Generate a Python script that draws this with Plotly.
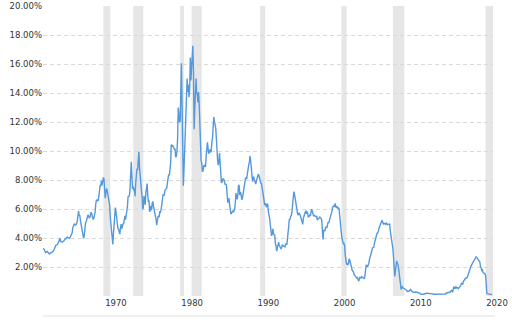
import pandas as pd
import plotly.graph_objects as go

# Monthly 1-year rate (%), Jan 1962 .. Dec 2020
rates_1960s = [
    3.29, 3.26, 3.22, 3.10, 2.99, 3.03, 3.03, 3.08, 3.00, 2.90, 2.90, 2.94,
    3.01, 3.00, 3.00, 3.05, 3.06, 3.14, 3.25, 3.42, 3.48, 3.50, 3.54, 3.57,
    3.69, 3.76, 3.93, 3.94, 3.75, 3.74, 3.69, 3.72, 3.79, 3.80, 3.88, 3.97,
    3.94, 4.03, 4.06, 4.04, 4.03, 3.99, 3.98, 4.07, 4.20, 4.30, 4.37, 4.72,
    4.88, 4.94, 4.97, 4.90, 4.93, 4.97, 5.17, 5.54, 5.85, 5.58, 5.54, 5.20,
    4.94, 4.71, 4.35, 4.11, 3.98, 4.15, 4.73, 5.05, 5.12, 5.33, 5.56, 5.61,
    5.46, 5.39, 5.42, 5.68, 5.78, 5.62, 5.51, 5.27, 5.38, 5.54, 5.75, 6.31,
    6.59, 6.58, 6.66, 6.55, 6.87, 7.42, 7.62, 7.61, 7.95, 7.62, 7.85, 8.17,
]
rates_1970s = [
    8.10, 7.52, 6.75, 7.04, 7.40, 7.32, 7.07, 6.74, 6.51, 6.26, 5.44, 5.00,
    4.51, 3.89, 3.55, 4.30, 5.04, 5.64, 6.10, 5.80, 5.41, 4.91, 4.67, 4.60,
    4.28, 4.27, 4.67, 4.96, 4.64, 4.93, 4.96, 4.98, 5.52, 5.52, 5.27, 5.52,
    5.89, 6.19, 6.85, 6.85, 6.89, 7.31, 8.90, 9.25, 8.31, 7.40, 7.57, 7.27,
    7.42, 6.88, 7.76, 8.62, 8.78, 8.67, 9.30, 9.95, 8.87, 8.05, 7.66, 7.31,
    6.83, 5.98, 6.11, 6.90, 6.39, 6.29, 7.11, 7.70, 7.75, 6.95, 6.49, 6.60,
    5.81, 5.91, 6.21, 5.92, 6.40, 6.52, 6.20, 6.00, 5.84, 5.50, 5.29, 4.89,
    5.29, 5.47, 5.50, 5.44, 5.84, 5.80, 5.94, 6.37, 6.53, 6.97, 6.95, 6.96,
    7.28, 7.34, 7.31, 7.45, 7.82, 8.09, 8.39, 8.31, 8.64, 9.14, 10.45, 10.30,
    10.41, 10.24, 10.25, 10.12, 10.12, 9.57, 9.64, 9.98, 10.84, 13.00, 12.39, 11.98,
]
rates_1980s = [
    12.06, 13.92, 16.05, 13.30, 9.39, 7.60, 8.65, 10.24, 11.52, 12.49, 14.15, 15.00,
    14.08, 14.57, 13.71, 14.32, 16.45, 14.86, 15.72, 16.72, 17.25, 15.38, 11.50, 12.85,
    14.32, 15.00, 13.95, 13.98, 13.34, 14.07, 13.24, 11.43, 10.85, 9.32, 9.16, 8.60,
    8.62, 8.92, 9.04, 8.98, 8.90, 9.66, 10.20, 10.60, 10.16, 9.81, 9.94, 10.11,
    9.90, 10.04, 10.59, 10.90, 11.66, 12.35, 12.03, 11.82, 11.58, 10.90, 9.82, 9.33,
    9.02, 9.29, 9.86, 9.14, 8.46, 7.80, 7.86, 8.05, 8.07, 8.01, 7.88, 7.67,
    7.73, 7.61, 7.03, 6.44, 6.65, 6.73, 6.27, 5.93, 5.65, 5.72, 5.80, 5.87,
    5.78, 5.96, 6.03, 6.50, 7.10, 6.80, 6.68, 7.03, 7.67, 7.59, 6.96, 7.17,
    6.99, 6.64, 6.71, 7.01, 7.40, 7.49, 7.75, 8.17, 8.09, 8.11, 8.48, 8.99,
    9.05, 9.25, 9.65, 9.36, 8.98, 8.44, 7.89, 8.18, 8.22, 7.99, 7.77, 7.72,
]
rates_1990s = [
    7.92, 8.11, 8.35, 8.40, 8.32, 8.10, 7.94, 7.78, 7.76, 7.55, 7.31, 7.05,
    6.64, 6.27, 6.40, 6.24, 6.13, 6.36, 6.31, 5.78, 5.57, 5.33, 4.89, 4.38,
    4.15, 4.29, 4.63, 4.30, 4.19, 4.17, 3.60, 3.47, 3.10, 3.30, 3.68, 3.71,
    3.50, 3.39, 3.33, 3.24, 3.36, 3.54, 3.47, 3.44, 3.36, 3.39, 3.58, 3.61,
    3.54, 3.87, 4.32, 4.82, 5.31, 5.27, 5.48, 5.56, 5.76, 6.11, 6.54, 7.20,
    7.05, 6.70, 6.43, 6.27, 6.00, 5.64, 5.59, 5.75, 5.62, 5.59, 5.43, 5.31,
    5.09, 4.94, 5.34, 5.54, 5.64, 5.81, 5.85, 5.67, 5.83, 5.55, 5.42, 5.47,
    5.61, 5.53, 5.80, 5.99, 5.87, 5.69, 5.54, 5.56, 5.52, 5.46, 5.46, 5.53,
    5.24, 5.31, 5.39, 5.38, 5.44, 5.41, 5.36, 5.21, 4.71, 3.90, 4.53, 4.52,
    4.51, 4.70, 4.78, 4.69, 4.85, 5.10, 5.03, 5.20, 5.25, 5.43, 5.55, 5.84,
]
rates_2000s = [
    6.12, 6.22, 6.22, 6.15, 6.38, 6.17, 6.08, 6.18, 6.13, 6.01, 6.09, 5.60,
    4.81, 4.68, 4.30, 3.98, 3.78, 3.58, 3.62, 3.47, 2.82, 2.33, 2.18, 2.22,
    2.16, 2.23, 2.57, 2.48, 2.35, 2.20, 1.96, 1.76, 1.72, 1.65, 1.49, 1.45,
    1.36, 1.30, 1.24, 1.27, 1.18, 1.01, 1.12, 1.31, 1.24, 1.25, 1.34, 1.31,
    1.24, 1.24, 1.19, 1.43, 1.78, 2.12, 2.10, 2.02, 2.12, 2.23, 2.50, 2.67,
    2.86, 3.03, 3.30, 3.32, 3.33, 3.36, 3.64, 3.87, 3.85, 4.18, 4.33, 4.35,
    4.45, 4.68, 4.77, 4.90, 5.00, 5.16, 5.22, 5.08, 4.97, 5.01, 5.01, 4.94,
    5.06, 5.05, 4.92, 4.93, 4.91, 4.96, 4.96, 4.47, 4.14, 4.10, 3.50, 3.26,
    2.71, 2.05, 1.35, 1.74, 2.06, 2.42, 2.28, 2.18, 1.91, 1.42, 1.07, 0.49,
    0.44, 0.62, 0.64, 0.55, 0.50, 0.51, 0.48, 0.46, 0.40, 0.37, 0.31, 0.37,
]
rates_2010s = [
    0.35, 0.35, 0.40, 0.45, 0.37, 0.32, 0.29, 0.26, 0.26, 0.23, 0.25, 0.29,
    0.27, 0.29, 0.26, 0.25, 0.19, 0.18, 0.19, 0.11, 0.10, 0.11, 0.11, 0.12,
    0.12, 0.16, 0.19, 0.18, 0.19, 0.19, 0.19, 0.18, 0.18, 0.18, 0.18, 0.16,
    0.15, 0.16, 0.15, 0.12, 0.12, 0.14, 0.12, 0.13, 0.12, 0.12, 0.12, 0.13,
    0.12, 0.12, 0.13, 0.11, 0.10, 0.10, 0.11, 0.11, 0.11, 0.10, 0.13, 0.21,
    0.20, 0.22, 0.25, 0.23, 0.24, 0.28, 0.30, 0.38, 0.37, 0.26, 0.48, 0.65,
    0.54, 0.53, 0.66, 0.56, 0.59, 0.55, 0.51, 0.57, 0.59, 0.66, 0.74, 0.87,
    0.83, 0.82, 1.01, 1.04, 1.12, 1.20, 1.22, 1.23, 1.28, 1.40, 1.56, 1.70,
    1.80, 1.96, 2.06, 2.15, 2.27, 2.33, 2.39, 2.45, 2.56, 2.65, 2.70, 2.66,
    2.58, 2.55, 2.49, 2.43, 2.34, 2.00, 1.96, 1.77, 1.80, 1.61, 1.57, 1.55,
]
rates_2020 = [1.53, 1.41, 0.33, 0.18, 0.16, 0.18, 0.15, 0.13, 0.13, 0.13, 0.12, 0.10]

recession_starts = ["1969-12-01", "1973-11-01", "1980-01-01", "1981-07-01",
                    "1990-07-01", "2001-03-01", "2007-12-01", "2020-02-01"]
recession_ends = ["1970-11-01", "1975-03-01", "1980-07-01", "1982-11-01",
                  "1991-03-01", "2001-11-01", "2009-06-01", "2021-01-20"]

y_ticks = [0, 2, 4, 6, 8, 10, 12, 14, 16, 18, 20]
y_tick_text = [""] + [f"{v:.2f}%" for v in y_ticks[1:]]

rates = rates_1960s + rates_1970s + rates_1980s + rates_1990s + rates_2000s + rates_2010s + rates_2020
dates = pd.date_range("1962-01-01", periods=len(rates), freq="MS")

fig = go.Figure()
for s, e in zip(recession_starts, recession_ends):
    fig.add_vrect(x0=s, x1=e, fillcolor="#e6e6e6", opacity=1, line_width=0, layer="below")

fig.add_trace(go.Scatter(x=dates, y=rates, mode="lines",
                         line=dict(color="#5599dd", width=1.4), hoverinfo="skip"))

fig.add_shape(type="line", xref="paper", yref="paper", x0=0, x1=1.004, y0=-0.069, y1=-0.069,
              line=dict(color="#e0e0e0", width=1))

fig.update_layout(
    width=512, height=322,
    margin=dict(l=43, r=19, t=6, b=26),
    paper_bgcolor="white", plot_bgcolor="white",
    showlegend=False,
    font=dict(family="DejaVu Sans", size=8.5, color="#333333"),
)
fig.update_xaxes(
    range=["1962-01-01", "2021-01-20"], automargin=False,
    tick0="1970-01-01", dtick="M120", tickformat="%Y",
    showgrid=False, zeroline=False, showline=False, ticks="",
    ticklabelshift=12, ticklabeloverflow="allow",
)
fig.update_yaxes(
    range=[0, 20], tickvals=y_ticks, ticktext=y_tick_text, automargin=False,
    showgrid=True, gridcolor="#d9d9d9", griddash="4px,3px", gridwidth=1,
    zeroline=False, showline=False, ticks="",
)
fig.write_html("out.html", config={"displayModeBar": False},
               post_script="document.body.style.margin='0px';document.body.style.overflow='hidden';")
